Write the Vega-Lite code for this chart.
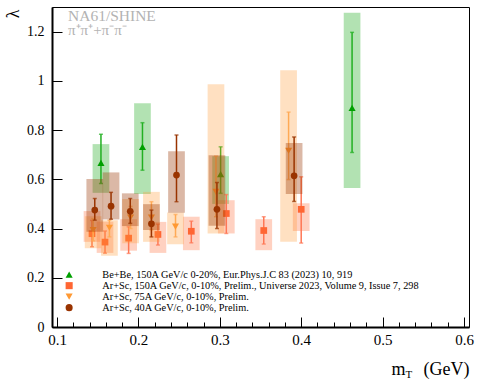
{
  "$schema": "https://vega.github.io/schema/vega-lite/v6.json",
  "width": 417,
  "height": 320,
  "autosize": "none",
  "padding": {"left": 52, "top": 7, "right": 11, "bottom": 53},
  "background": "white",
  "config": {
    "view": {"stroke": "black", "strokeWidth": 1},
    "font": "Liberation Serif",
    "legend": {
      "orient": "none", "legendX": 12, "legendY": 262.5, "title": null,
      "labelFont": "Liberation Serif", "labelFontSize": 10.3, "labelColor": "black",
      "labelLimit": 0, "symbolSize": 50, "rowPadding": -1.8, "labelOffset": 28, "symbolStrokeWidth": 0
    }
  },
  "title": {
    "text": "NA61/SHINE", "subtitle": "π⁺π⁺+π⁻π⁻", "anchor": "start", "frame": "group",
    "orient": "top", "offset": -31, "dx": 16, "color": "#b3b3b3", "subtitleColor": "#b3b3b3",
    "fontSize": 15.5, "fontWeight": "normal", "subtitleFontSize": 15,
    "font": "Liberation Serif", "subtitleFont": "Liberation Serif", "subtitlePadding": -1
  },
  "data": {"values": [
    {"g": "be", "s": "Be+Be, 150A GeV/c 0-20%, Eur.Phys.J.C 83 (2023) 10, 919", "x": 0.154, "y": 0.667, "elo": 0.583, "ehi": 0.783, "blo": 0.545, "bhi": 0.743},
    {"g": "be", "s": "Be+Be, 150A GeV/c 0-20%, Eur.Phys.J.C 83 (2023) 10, 919", "x": 0.205, "y": 0.732, "elo": 0.637, "ehi": 0.83, "blo": 0.54, "bhi": 0.909},
    {"g": "be", "s": "Be+Be, 150A GeV/c 0-20%, Eur.Phys.J.C 83 (2023) 10, 919", "x": 0.301, "y": 0.621, "elo": 0.543, "ehi": 0.732, "blo": 0.5, "bhi": 0.694},
    {"g": "be", "s": "Be+Be, 150A GeV/c 0-20%, Eur.Phys.J.C 83 (2023) 10, 919", "x": 0.4625, "y": 0.89, "elo": 0.709, "ehi": 1.197, "blo": 0.565, "bhi": 1.277},
    {"g": "a150", "s": "Ar+Sc, 150A GeV/c, 0-10%, Prelim., Universe 2023, Volume 9, Issue 7, 298", "x": 0.143, "y": 0.379, "elo": 0.326, "ehi": 0.433, "blo": 0.346, "bhi": 0.471},
    {"g": "a150", "s": "Ar+Sc, 150A GeV/c, 0-10%, Prelim., Universe 2023, Volume 9, Issue 7, 298", "x": 0.159, "y": 0.345, "elo": 0.3, "ehi": 0.39, "blo": 0.301, "bhi": 0.428},
    {"g": "a150", "s": "Ar+Sc, 150A GeV/c, 0-10%, Prelim., Universe 2023, Volume 9, Issue 7, 298", "x": 0.188, "y": 0.361, "elo": 0.299, "ehi": 0.407, "blo": 0.31, "bhi": 0.438},
    {"g": "a150", "s": "Ar+Sc, 150A GeV/c, 0-10%, Prelim., Universe 2023, Volume 9, Issue 7, 298", "x": 0.224, "y": 0.376, "elo": 0.333, "ehi": 0.418, "blo": 0.301, "bhi": 0.427},
    {"g": "a150", "s": "Ar+Sc, 150A GeV/c, 0-10%, Prelim., Universe 2023, Volume 9, Issue 7, 298", "x": 0.265, "y": 0.389, "elo": 0.342, "ehi": 0.43, "blo": 0.312, "bhi": 0.448},
    {"g": "a150", "s": "Ar+Sc, 150A GeV/c, 0-10%, Prelim., Universe 2023, Volume 9, Issue 7, 298", "x": 0.308, "y": 0.461, "elo": 0.38, "ehi": 0.538, "blo": 0.38, "bhi": 0.515},
    {"g": "a150", "s": "Ar+Sc, 150A GeV/c, 0-10%, Prelim., Universe 2023, Volume 9, Issue 7, 298", "x": 0.354, "y": 0.392, "elo": 0.337, "ehi": 0.448, "blo": 0.312, "bhi": 0.438},
    {"g": "a150", "s": "Ar+Sc, 150A GeV/c, 0-10%, Prelim., Universe 2023, Volume 9, Issue 7, 298", "x": 0.4, "y": 0.478, "elo": 0.341, "ehi": 0.61, "blo": 0.39, "bhi": 0.503},
    {"g": "a75", "s": "Ar+Sc, 75A GeV/c, 0-10%, Prelim.", "x": 0.1444, "y": 0.394, "elo": 0.35, "ehi": 0.44, "blo": 0.32, "bhi": 0.45},
    {"g": "a75", "s": "Ar+Sc, 75A GeV/c, 0-10%, Prelim.", "x": 0.1644, "y": 0.403, "elo": 0.366, "ehi": 0.434, "blo": 0.289, "bhi": 0.434},
    {"g": "a75", "s": "Ar+Sc, 75A GeV/c, 0-10%, Prelim.", "x": 0.1904, "y": 0.445, "elo": 0.4, "ehi": 0.49, "blo": 0.34, "bhi": 0.52},
    {"g": "a75", "s": "Ar+Sc, 75A GeV/c, 0-10%, Prelim.", "x": 0.216, "y": 0.445, "elo": 0.394, "ehi": 0.509, "blo": 0.346, "bhi": 0.549},
    {"g": "a75", "s": "Ar+Sc, 75A GeV/c, 0-10%, Prelim.", "x": 0.2456, "y": 0.408, "elo": 0.366, "ehi": 0.457, "blo": 0.336, "bhi": 0.465},
    {"g": "a75", "s": "Ar+Sc, 75A GeV/c, 0-10%, Prelim.", "x": 0.2953, "y": 0.549, "elo": 0.448, "ehi": 0.694, "blo": 0.38, "bhi": 0.986},
    {"g": "a75", "s": "Ar+Sc, 75A GeV/c, 0-10%, Prelim.", "x": 0.3845, "y": 0.716, "elo": 0.599, "ehi": 0.873, "blo": 0.346, "bhi": 1.043},
    {"g": "a40", "s": "Ar+Sc, 40A GeV/c, 0-10%, Prelim.", "x": 0.1464, "y": 0.475, "elo": 0.434, "ehi": 0.522, "blo": 0.387, "bhi": 0.601},
    {"g": "a40", "s": "Ar+Sc, 40A GeV/c, 0-10%, Prelim.", "x": 0.1664, "y": 0.491, "elo": 0.438, "ehi": 0.547, "blo": 0.437, "bhi": 0.628},
    {"g": "a40", "s": "Ar+Sc, 40A GeV/c, 0-10%, Prelim.", "x": 0.19, "y": 0.47, "elo": 0.421, "ehi": 0.522, "blo": 0.41, "bhi": 0.543},
    {"g": "a40", "s": "Ar+Sc, 40A GeV/c, 0-10%, Prelim.", "x": 0.216, "y": 0.419, "elo": 0.366, "ehi": 0.475, "blo": 0.394, "bhi": 0.499},
    {"g": "a40", "s": "Ar+Sc, 40A GeV/c, 0-10%, Prelim.", "x": 0.2468, "y": 0.617, "elo": 0.509, "ehi": 0.78, "blo": 0.464, "bhi": 0.714},
    {"g": "a40", "s": "Ar+Sc, 40A GeV/c, 0-10%, Prelim.", "x": 0.2965, "y": 0.478, "elo": 0.4, "ehi": 0.587, "blo": 0.411, "bhi": 0.698},
    {"g": "a40", "s": "Ar+Sc, 40A GeV/c, 0-10%, Prelim.", "x": 0.3913, "y": 0.614, "elo": 0.51, "ehi": 0.772, "blo": 0.54, "bhi": 0.747}
  ]},
  "resolve": {"axis": {"x": "independent"}},
  "layer": [
    {
      "transform": [{"filter": {"field": "g", "equal": "be"}}],
      "encoding": {"x": {"field": "x", "type": "quantitative", "scale": {"domain": [0.1, 0.6], "nice": false, "zero": false},
        "axis": {"orient": "bottom", "title": "(GeV)", "values": [0.1,0.12,0.14,0.16,0.18,0.2,0.22,0.24,0.26,0.28,0.3,0.32,0.34,0.36,0.38,0.4,0.42,0.44,0.46,0.48,0.5,0.52,0.54,0.56,0.58,0.6],
          "labelExpr": "abs(datum.value*10-round(datum.value*10))<0.01 ? toString(round(datum.value*10)/10) : ''",
          "tickSize": {"condition": {"test": "abs(datum.value*10-round(datum.value*10))<0.01", "value": -10}, "value": -5},
          "tickColor": "black", "tickWidth": 1, "domainColor": "black", "domainWidth": 2, "grid": false,
          "labelFont": "Liberation Serif", "labelFontSize": 15, "labelColor": "black", "labelPadding": 15, "labelFlush": false, "labelOverlap": false,
          "titleFont": "Liberation Serif", "titleFontSize": 18, "titleFontWeight": "normal", "titleColor": "black",
          "titleX": 417, "titleY": 47, "titleAlign": "right", "titleBaseline": "alphabetic"}}},
      "layer": [
        {"mark": {"type": "bar", "orient": "vertical", "width": 16.7, "color": "#00a000", "opacity": 0.3},
         "encoding": {"y": {"field": "blo", "type": "quantitative", "title": "λ", "scale": {"domain": [0, 1.3], "nice": false, "zero": false},
           "axis": {"title": "λ", "values": [0, 0.2, 0.4, 0.6, 0.8, 1, 1.2], "labelExpr": "toString(round(datum.value*10)/10)",
             "tickSize": -10, "tickColor": "black", "tickWidth": 1, "domainColor": "black", "domainWidth": 2, "grid": false,
             "labelFont": "Liberation Serif", "labelFontSize": 14, "labelColor": "black", "labelPadding": 18, "labelFlush": false, "labelOverlap": false,
             "titleFont": "Liberation Serif", "titleFontSize": 18, "titleFontWeight": "normal", "titleColor": "black",
             "titleX": -39, "titleY": 2, "titleAlign": "right", "titleBaseline": "middle", "titleAngle": -90}},
           "y2": {"field": "bhi"}}},
        {"mark": {"type": "rule", "color": "#22b022", "strokeWidth": 1.5}, "encoding": {"y": {"field": "elo", "type": "quantitative", "title": "λ"}, "y2": {"field": "ehi"}}},
        {"mark": {"type": "tick", "orient": "horizontal", "color": "#22b022", "size": 4, "thickness": 1.5}, "encoding": {"y": {"field": "elo", "type": "quantitative", "title": "λ"}}},
        {"mark": {"type": "tick", "orient": "horizontal", "color": "#22b022", "size": 4, "thickness": 1.5}, "encoding": {"y": {"field": "ehi", "type": "quantitative", "title": "λ"}}},
        {"mark": {"type": "point", "filled": true, "size": 50, "opacity": 1, "strokeWidth": 0},
         "encoding": {"y": {"field": "y", "type": "quantitative", "title": "λ"},
           "color": {"field": "s", "type": "nominal", "scale": {"domain": ["Be+Be, 150A GeV/c 0-20%, Eur.Phys.J.C 83 (2023) 10, 919", "Ar+Sc, 150A GeV/c, 0-10%, Prelim., Universe 2023, Volume 9, Issue 7, 298", "Ar+Sc, 75A GeV/c, 0-10%, Prelim.", "Ar+Sc, 40A GeV/c, 0-10%, Prelim."], "range": ["#00a000", "#ff6633", "#ff9933", "#993300"]}},
           "shape": {"field": "s", "type": "nominal", "scale": {"domain": ["Be+Be, 150A GeV/c 0-20%, Eur.Phys.J.C 83 (2023) 10, 919", "Ar+Sc, 150A GeV/c, 0-10%, Prelim., Universe 2023, Volume 9, Issue 7, 298", "Ar+Sc, 75A GeV/c, 0-10%, Prelim.", "Ar+Sc, 40A GeV/c, 0-10%, Prelim."], "range": ["triangle-up", "square", "triangle-down", "circle"]}}}}
      ]
    },
    {
      "transform": [{"filter": {"field": "g", "equal": "a150"}}],
      "encoding": {"x": {"field": "x", "type": "quantitative", "scale": {"domain": [0.1, 0.6], "nice": false, "zero": false},
        "axis": {"orient": "bottom", "title": "m", "ticks": false, "labels": false, "domain": false, "grid": false,
          "titleFont": "Liberation Serif", "titleFontSize": 18, "titleFontWeight": "normal", "titleColor": "black",
          "titleX": 353, "titleY": 47, "titleAlign": "right", "titleBaseline": "alphabetic"}}},
      "layer": [
        {"mark": {"type": "bar", "orient": "vertical", "width": 16.7, "color": "#ff6633", "opacity": 0.3}, "encoding": {"y": {"field": "blo", "type": "quantitative", "title": "λ"}, "y2": {"field": "bhi"}}},
        {"mark": {"type": "rule", "color": "#ff7755", "strokeWidth": 1.5}, "encoding": {"y": {"field": "elo", "type": "quantitative", "title": "λ"}, "y2": {"field": "ehi"}}},
        {"mark": {"type": "tick", "orient": "horizontal", "color": "#ff7755", "size": 4, "thickness": 1.5}, "encoding": {"y": {"field": "elo", "type": "quantitative", "title": "λ"}}},
        {"mark": {"type": "tick", "orient": "horizontal", "color": "#ff7755", "size": 4, "thickness": 1.5}, "encoding": {"y": {"field": "ehi", "type": "quantitative", "title": "λ"}}},
        {"mark": {"type": "point", "filled": true, "size": 45, "opacity": 1, "strokeWidth": 0},
         "encoding": {"y": {"field": "y", "type": "quantitative", "title": "λ"}, "color": {"field": "s", "type": "nominal"}, "shape": {"field": "s", "type": "nominal"}}}
      ]
    },
    {
      "transform": [{"filter": {"field": "g", "equal": "a75"}}],
      "encoding": {"x": {"field": "x", "type": "quantitative", "scale": {"domain": [0.1, 0.6], "nice": false, "zero": false},
        "axis": {"orient": "bottom", "title": "T", "ticks": false, "labels": false, "domain": false, "grid": false,
          "titleFont": "Liberation Serif", "titleFontSize": 11, "titleFontWeight": "normal", "titleColor": "black",
          "titleX": 353, "titleY": 50.5, "titleAlign": "left", "titleBaseline": "alphabetic"}}},
      "layer": [
        {"mark": {"type": "bar", "orient": "vertical", "width": 16.7, "color": "#ff9933", "opacity": 0.3}, "encoding": {"y": {"field": "blo", "type": "quantitative", "title": "λ"}, "y2": {"field": "bhi"}}},
        {"mark": {"type": "rule", "color": "#ffaa55", "strokeWidth": 1.5}, "encoding": {"y": {"field": "elo", "type": "quantitative", "title": "λ"}, "y2": {"field": "ehi"}}},
        {"mark": {"type": "tick", "orient": "horizontal", "color": "#ffaa55", "size": 4, "thickness": 1.5}, "encoding": {"y": {"field": "elo", "type": "quantitative", "title": "λ"}}},
        {"mark": {"type": "tick", "orient": "horizontal", "color": "#ffaa55", "size": 4, "thickness": 1.5}, "encoding": {"y": {"field": "ehi", "type": "quantitative", "title": "λ"}}},
        {"mark": {"type": "point", "filled": true, "size": 50, "opacity": 1, "strokeWidth": 0},
         "encoding": {"y": {"field": "y", "type": "quantitative", "title": "λ"}, "color": {"field": "s", "type": "nominal"}, "shape": {"field": "s", "type": "nominal"}}}
      ]
    },
    {
      "transform": [{"filter": {"field": "g", "equal": "a40"}}],
      "encoding": {"x": {"field": "x", "type": "quantitative", "scale": {"domain": [0.1, 0.6], "nice": false, "zero": false}, "axis": null}},
      "layer": [
        {"mark": {"type": "bar", "orient": "vertical", "width": 16.7, "color": "#993300", "opacity": 0.35}, "encoding": {"y": {"field": "blo", "type": "quantitative", "title": "λ"}, "y2": {"field": "bhi"}}},
        {"mark": {"type": "rule", "color": "#993300", "strokeWidth": 1.5}, "encoding": {"y": {"field": "elo", "type": "quantitative", "title": "λ"}, "y2": {"field": "ehi"}}},
        {"mark": {"type": "tick", "orient": "horizontal", "color": "#993300", "size": 4, "thickness": 1.5}, "encoding": {"y": {"field": "elo", "type": "quantitative", "title": "λ"}}},
        {"mark": {"type": "tick", "orient": "horizontal", "color": "#993300", "size": 4, "thickness": 1.5}, "encoding": {"y": {"field": "ehi", "type": "quantitative", "title": "λ"}}},
        {"mark": {"type": "point", "filled": true, "size": 45, "opacity": 1, "strokeWidth": 0},
         "encoding": {"y": {"field": "y", "type": "quantitative", "title": "λ"}, "color": {"field": "s", "type": "nominal"}, "shape": {"field": "s", "type": "nominal"}}}
      ]
    }
  ]
}
